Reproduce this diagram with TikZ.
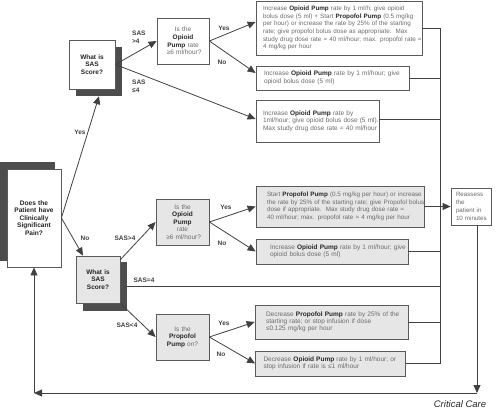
\documentclass[tikz,border=0pt]{standalone}
\usepackage{fontspec}
\setmainfont{Liberation Sans}
\usetikzlibrary{arrows.meta}
\definecolor{boxgray}{HTML}{E6E6E6}
\definecolor{edgec}{HTML}{5A5A5A}
\definecolor{shade}{HTML}{4D4D4D}
\definecolor{txt}{HTML}{6B6B6B}
\definecolor{ink}{HTML}{404040}
\newcommand{\bx}[1]{\textbf{\color{black!85}#1}}
\newcommand{\lx}[1]{\mbox{#1}}
\tikzset{
  box/.style={draw=edgec, line width=0.8pt, fill=white, inner ysep=0pt,
    font=\fontsize{6.5}{7.6}\selectfont, text=txt},
  act/.style={box, align=left},
  qbox/.style={box, align=center, inner xsep=0pt},
  gfill/.style={fill=boxgray},
  shadowbox/.style={fill=shade, draw=none, inner sep=0pt},
  lab/.style={font=\bfseries\fontsize{6.5}{7.6}\selectfont, text=ink, inner sep=0pt},
  arr/.style={-{Triangle[length=8pt,width=7pt]}, draw=ink, line width=0.8pt},
  ln/.style={draw=ink, line width=0.8pt},
}
\begin{document}
\begin{tikzpicture}[x=1pt,y=-1pt]
\useasboundingbox (0,0) rectangle (500,410);
% shadows
\node[shadowbox, minimum width=55pt, minimum height=99pt] (pains) at (27,211.5) {};
\node[shadowbox, minimum width=46pt, minimum height=49pt] (sas1s) at (99,71.5) {};
\node[shadowbox, minimum width=44pt, minimum height=49pt] (sas2s) at (105,286.5) {};
% decision boxes
\node[qbox, minimum width=54pt, minimum height=98pt, text width=52pt,
  font=\bfseries\fontsize{6.6}{7.4}\selectfont, text=black!85] (pain) at (34,218)
  {Does the\\Patient have\\Clinically\\Significant\\Pain?};
\node[qbox, minimum width=46pt, minimum height=49pt, text width=44pt,
  font=\bfseries\fontsize{6.5}{7.4}\selectfont, text=black!85] (sas1) at (92,64.5)
  {What is\\SAS\\Score?};
\node[qbox, minimum width=52pt, minimum height=46pt, text width=50pt] (op1) at (183,41)
  {Is the\\\bx{Opioid}\\\bx{Pump} rate\\\,\,≥6 ml/hour?};
\node[qbox, gfill, minimum width=44pt, minimum height=47pt, text width=42pt,
  font=\bfseries\fontsize{6.5}{7.4}\selectfont, text=black!85] (sas2) at (98,279.5)
  {What is\\SAS\\Score?};
\node[qbox, gfill, minimum width=53pt, minimum height=46pt, text width=51pt] (op2) at (182.5,222)
  {Is the\\\bx{Opioid}\\\bx{Pump}\\rate\\\,\,≥6 ml/hour?};
\node[qbox, gfill, minimum width=53pt, minimum height=46pt, text width=51pt] (pp) at (182.5,337)
  {Is the\\\bx{Propofol}\\\bx{Pump} on?};
% action boxes
\node[act, minimum height=54pt, text width=152pt, inner xsep=7pt,
  font=\fontsize{6.3}{7.6}\selectfont] (a1) at (339,28)
  {\lx{Increase \bx{Opioid Pump} rate by 1 ml/h; give opioid}\\
   \lx{bolus dose (5 ml) + Start \bx{Propofol Pump} (0.5 mg/kg}\\
   \lx{per hour) or increase the rate by 25\% of the starting}\\
   \lx{rate; give propofol bolus dose as appropriate.\ \ Max}\\
   \lx{study drug dose rate = 40 ml/hour; max. propofol rate =}\\
   \lx{4 mg/kg per hour}};
\node[act, minimum height=24pt, text width=137pt, inner xsep=8pt] (a2) at (332.5,78)
  {\lx{Increase \bx{Opioid Pump} rate by 1 ml/hour; give}\\\lx{opioid bolus dose (5 ml)}};
\node[act, minimum height=42pt, text width=109pt, inner xsep=7pt] (a3) at (317.5,121)
  {\lx{Increase \bx{Opioid Pump} rate by}\\\lx{1ml/hour; give opioid bolus dose (5 ml).}\\\lx{Max study drug dose rate = 40 ml/hour}};
\node[act, gfill, minimum height=41pt, text width=146pt, inner xsep=11pt,
  font=\fontsize{6.3}{7.6}\selectfont] (b1) at (340,206.5)
  {\lx{Start \bx{Propofol Pump} (0.5 mg/kg per hour) or increase}\\
   \lx{the rate by 25\% of the starting rate; give Propofol bolus}\\
   \lx{dose if appropriate.\ \ Max study drug dose rate =}\\
   \lx{40 ml/hour; max. propofol rate = 4 mg/kg per hour}};
\node[act, gfill, minimum height=25pt, text width=124pt, inner xsep=14pt] (b2) at (332,251.5)
  {\lx{Increase \bx{Opioid Pump} rate by 1 ml/hour; give}\\\lx{opioid bolus dose (5 ml)}};
\node[act, gfill, minimum height=34pt, text width=131pt, inner xsep=11pt,
  font=\fontsize{6.5}{7.2}\selectfont] (c1) at (331.5,322)
  {\lx{Decrease \bx{Propofol Pump} rate by 25\% of the}\\\lx{starting rate; or stop infusion if dose}\\\lx{≤0.125 mg/kg per hour}};
\node[act, gfill, minimum height=25pt, text width=134pt, inner xsep=8pt,
  font=\fontsize{6.5}{7.2}\selectfont] (c2) at (330.5,363.5)
  {\lx{Decrease \bx{Opioid Pump} rate by 1 ml/hour; or}\\\lx{stop infusion if rate is ≤1 ml/hour}};
\node[act, minimum width=40pt, minimum height=37pt, text width=30pt, inner xsep=5pt,
  font=\fontsize{6.2}{7.8}\selectfont] (re) at (471,206.5)
  {\lx{Reassess}\\\lx{the}\\\lx{patient in}\\\lx{10 minutes}};
% bus coordinates
\coordinate (bustop) at (440,28);
\coordinate (busbot) at (440,363.5);
\coordinate (br) at (477,393);
\coordinate (bl) at (34,393);
% connectors
\draw[arr] (pain.east) -- (sas1s.south);
\draw[arr] (pain.east) -- ([xshift=-15pt]sas2.north);
\draw[arr] (sas1.east) -- (op1.west);
\draw[arr] (sas1.east) -- ([yshift=2pt]a3.west);
\draw[arr] (op1.east) -- ([yshift=6pt]a1.west);
\draw[arr] (op1.east) -- ([yshift=5pt]a2.west);
\draw[arr] ([yshift=-4pt]sas2.north east) -- (op2.west);
\draw[ln] (sas2s.east) -- (sas2s.east -| bustop);
\draw[arr] (sas2.south east) -- (pp.west);
\draw[arr] (op2.east) -- (b1.west);
\draw[arr] (op2.east) -- (b2.west);
\draw[arr] (pp.east) -- (c1.west);
\draw[arr] (pp.east) -- (c2.west);
\draw[ln] (a1.east) -- (a1.east -| bustop);
\draw[ln] (a2.east) -- (a2.east -| bustop);
\draw[ln] ([yshift=2pt]a3.east) -- ([yshift=2pt]a3.east -| bustop);
\draw[ln] (b2.east) -- (b2.east -| bustop);
\draw[ln] (c1.east) -- (c1.east -| bustop);
\draw[ln] (c2.east) -- (c2.east -| bustop);
\draw[ln] (bustop) -- (busbot);
\draw[arr] (b1.east) -- (re.west);
\draw[arr] ([xshift=6pt]re.south) -- (br);
\draw[arr] (br) -- (bl);
\draw[arr] (bl) -- (pain.south);
% labels
\node[lab] (lyes1) at (80,132) {Yes};
\node[lab] (lno1) at (85,238) {No};
\node[lab, align=left, anchor=west] (lsas1) at (132,37) {SAS\\>4};
\node[lab, align=left, anchor=west] (lsas2) at (132,86) {SAS\\≤4};
\node[lab] (lyes2) at (224,28) {Yes};
\node[lab] (lno2) at (222,62) {No};
\node[lab] (lsas3) at (125,238) {SAS>4};
\node[lab] (lsas4) at (144,280) {SAS=4};
\node[lab] (lsas5) at (127,325) {SAS<4};
\node[lab] (lyes3) at (226,207) {Yes};
\node[lab] (lno3) at (222,243) {No};
\node[lab] (lyes4) at (224,323) {Yes};
\node[lab] (lno4) at (221,354) {No};
\node[font=\itshape\fontsize{9.5}{11}\selectfont, text=black!85, inner sep=0pt] (cc) at (460,404) {Critical Care};
\end{tikzpicture}
\end{document}
